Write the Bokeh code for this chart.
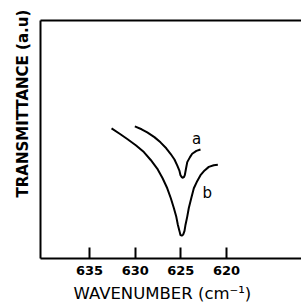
from bokeh.plotting import figure
from bokeh.models import Range1d, FixedTicker, LinearAxis, Label, Title
from bokeh.embed import file_html
from bokeh.resources import INLINE

# Curve a (wavenumber cm^-1, transmittance a.u.)
wn_a = [630.04, 629.3, 628.68, 627.9, 627.23, 626.6, 626.13, 625.7, 625.40, 625.15, 625.04, 624.9, 624.78, 624.65, 624.57, 624.45, 624.30, 624.0, 623.76, 623.3, 622.85]
tr_a = [55.5, 54.3, 53.0, 51.0, 48.8, 46.3, 44.0, 41.6, 39.1, 36.8, 35.0, 34.2, 33.9, 34.3, 35.0, 37.5, 40.5, 42.6, 44.0, 45.2, 45.8]

# Curve b
wn_b = [632.59, 631.7, 630.87, 629.9, 629.05, 628.3, 627.59, 627.0, 626.49, 626.1, 625.77, 625.5, 625.33, 625.15, 625.04, 624.9, 624.74, 624.6, 624.49, 624.3, 624.13, 623.85, 623.58, 623.2, 622.85, 622.4, 621.94, 621.4, 620.95]
tr_b = [54.65, 52.4, 50.2, 47.5, 44.7, 41.4, 37.8, 33.7, 29.5, 25.3, 21.2, 17.5, 14.2, 11.5, 9.8, 9.6, 10.1, 11.6, 14.2, 17.6, 21.2, 25.5, 29.5, 32.6, 35.0, 37.0, 38.5, 39.2, 39.4]

x_ticks = [635, 630, 625, 620]
x_title = "WAVENUMBER (cm\u207b\u00b9)"
y_title = "TRANSMITTANCE (a.u)"
curve_labels = ["a", "b"]
curve_label_pos = [(623.28, 50.2), (622.11, 27.4)]

p = figure(width=301, height=306, output_backend="svg", toolbar_location=None,
           x_range=Range1d(640.37, 611.79), y_range=Range1d(0, 100),
           min_border_left=40, min_border_right=0, min_border_top=20, min_border_bottom=45)
p.outline_line_color = None
p.grid.visible = False
p.background_fill_color = "white"
p.border_fill_color = "white"

p.xaxis.ticker = FixedTicker(ticks=x_ticks)
p.xaxis.major_tick_in = 11
p.xaxis.major_tick_out = 0
p.xaxis.minor_tick_line_color = None
p.xaxis.major_tick_line_width = 2
p.xaxis.axis_line_width = 2
p.xaxis.major_label_text_font = "DejaVu Sans"
p.xaxis.major_label_text_font_style = "bold"
p.xaxis.major_label_text_font_size = "13px"
p.xaxis.major_label_text_color = "black"
p.xaxis.major_label_standoff = 7

p.yaxis.ticker = FixedTicker(ticks=[])
p.yaxis.minor_tick_line_color = None
p.yaxis.major_label_text_font_size = "0px"
p.yaxis.axis_line_width = 2

top = LinearAxis(ticker=FixedTicker(ticks=[]), axis_line_width=2,
                 minor_tick_line_color=None, major_label_text_font_size="0px")
p.add_layout(top, "above")

p.line(wn_a, tr_a, line_color="black", line_width=2)
p.line(wn_b, tr_b, line_color="black", line_width=2)

for t, (x, y) in zip(curve_labels, curve_label_pos):
    p.add_layout(Label(x=x, y=y, text=t, text_font="DejaVu Sans", text_font_size="15px",
                       text_align="center", text_baseline="middle", text_color="black"))

p.add_layout(Title(text=x_title, align="left", offset=33, standoff=8, text_font="DejaVu Sans",
                   text_font_size="16.5px", text_font_style="normal", text_color="black"), "below")
p.add_layout(Title(text=y_title, align="left", offset=61, standoff=18, text_font="DejaVu Sans",
                   text_font_size="15px", text_font_style="bold", text_color="black"), "left")

open("out.html", "w").write(file_html(p, INLINE))
